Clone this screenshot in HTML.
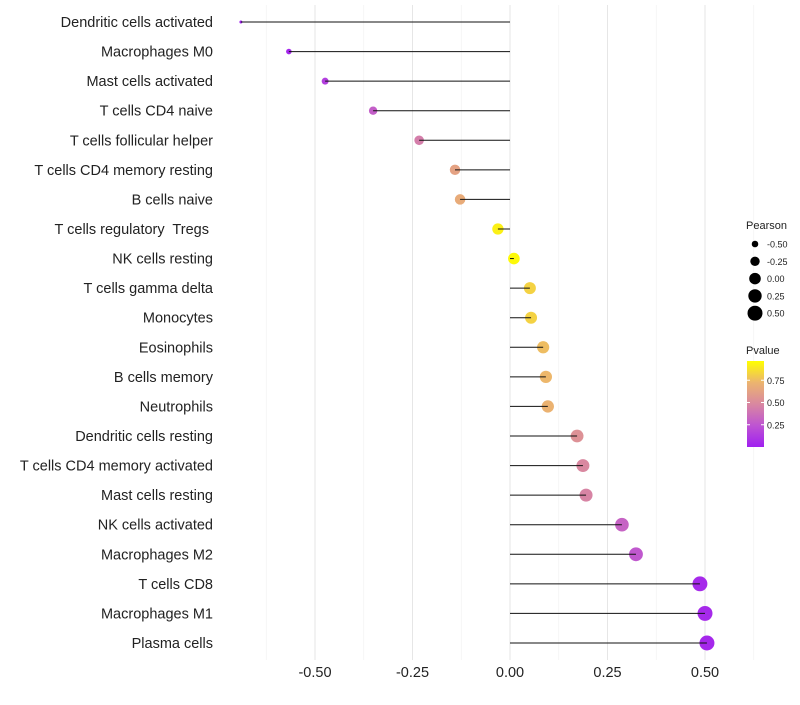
<!DOCTYPE html>
<html><head><meta charset="utf-8"><style>
body{margin:0;background:#fff;font-family:"Liberation Sans",sans-serif}
svg text{font-family:"Liberation Sans",sans-serif;white-space:pre}
</style></head><body>
<svg id="c" width="800" height="700"></svg>
<script>
const cells=["Dendritic cells activated","Macrophages M0","Mast cells activated","T cells CD4 naive","T cells follicular helper","T cells CD4 memory resting","B cells naive","T cells regulatory  Tregs ","NK cells resting","T cells gamma delta","Monocytes","Eosinophils","B cells memory","Neutrophils","Dendritic cells resting","T cells CD4 memory activated","Mast cells resting","NK cells activated","Macrophages M2","T cells CD8","Macrophages M1","Plasma cells"];
const pearson=[-0.69,-0.567,-0.474,-0.351,-0.233,-0.141,-0.128,-0.031,0.01,0.051,0.054,0.085,0.092,0.097,0.172,0.187,0.195,0.287,0.323,0.487,0.5,0.505];
const pvalue=[0.0,0.03,0.15,0.3,0.45,0.65,0.7,0.95,0.98,0.85,0.85,0.78,0.76,0.74,0.55,0.5,0.48,0.32,0.27,0.05,0.05,0.04];
const xTicks=[-0.5,-0.25,0,0.25,0.5];
const xMinor=[-0.625,-0.375,-0.125,0.125,0.375,0.625];
const sizeBreaks=[-0.5,-0.25,0,0.25,0.5];
const pBreaks=[0.25,0.5,0.75];
const NS="http://www.w3.org/2000/svg",svg=document.getElementById('c');
function el(t,a,p){const e=document.createElementNS(NS,t);for(const k in a)e.setAttribute(k,a[k]);(p||svg).appendChild(e);return e;}
const xS=v=>510+v*390;
const yS=i=>22+i*(621/21);
const rS=v=>Math.sqrt(Math.max(2.25,33.4+45.2*v));
const stops=[[0,[160,32,240]],[0.25,[190,84,210]],[0.5,[217,136,160]],[0.75,[236,180,111]],[1,[255,255,0]]];
function col(p){for(let i=1;i<stops.length;i++){if(p<=stops[i][0]){const a=stops[i-1],b=stops[i],t=(p-a[0])/(b[0]-a[0]);return 'rgb('+a[1].map((c,j)=>Math.round(c+(b[1][j]-c)*t)).join(',')+')';}}return 'rgb(255,255,0)';}
xMinor.forEach(v=>{const l=el('line',{x1:xS(v),x2:xS(v),y1:5,y2:660,stroke:'#f0f0f0','stroke-width':0.6});

});
xTicks.forEach(v=>{const l=el('line',{x1:xS(v),x2:xS(v),y1:5,y2:660,stroke:'#e6e6e6','stroke-width':1});


const t=el('text',{x:xS(v),y:677,'text-anchor':'middle','font-size':14.5,fill:'#222'});t.textContent=v.toFixed(2);

});
cells.forEach((c,i)=>{const y=yS(i);
const t=el('text',{x:213,y:y+5,'text-anchor':'end','font-size':14.5,fill:'#222'});t.textContent=c;


const p=el('circle',{cx:xS(pearson[i]),cy:y,r:rS(pearson[i]),fill:col(pvalue[i])});


const l=el('line',{x1:xS(0),x2:xS(pearson[i]),y1:y,y2:y,stroke:'#111','stroke-width':1});

});
// size legend
const lt=el('text',{x:746,y:229,'font-size':11,fill:'#222'});lt.textContent='Pearson';


sizeBreaks.forEach((v,i)=>{const y=244+i*17.3;
const c=el('circle',{cx:755,cy:y,r:rS(v),fill:'#000'});


const t=el('text',{x:767,y:y+3.5,'font-size':9,fill:'#222'});t.textContent=v.toFixed(2);

});
// colour legend
const pt=el('text',{x:746,y:354,'font-size':11,fill:'#222'});pt.textContent='Pvalue';


const defs=el('defs',{});const g=el('linearGradient',{id:'pg',x1:0,y1:1,x2:0,y2:0},defs);
stops.forEach(s=>el('stop',{offset:s[0],'stop-color':'rgb('+s[1].join(',')+')'},g));
const bar=el('rect',{x:747,y:361,width:17,height:86,fill:'url(#pg)'});


const pY=p=>447-p*89;
pBreaks.forEach(v=>{el('line',{x1:747,x2:750,y1:pY(v),y2:pY(v),stroke:'#fff'});el('line',{x1:761,x2:764,y1:pY(v),y2:pY(v),stroke:'#fff'});
const t=el('text',{x:767,y:pY(v)+3.5,'font-size':9,fill:'#222'});t.textContent=v.toFixed(2);

});
</script></body></html>
